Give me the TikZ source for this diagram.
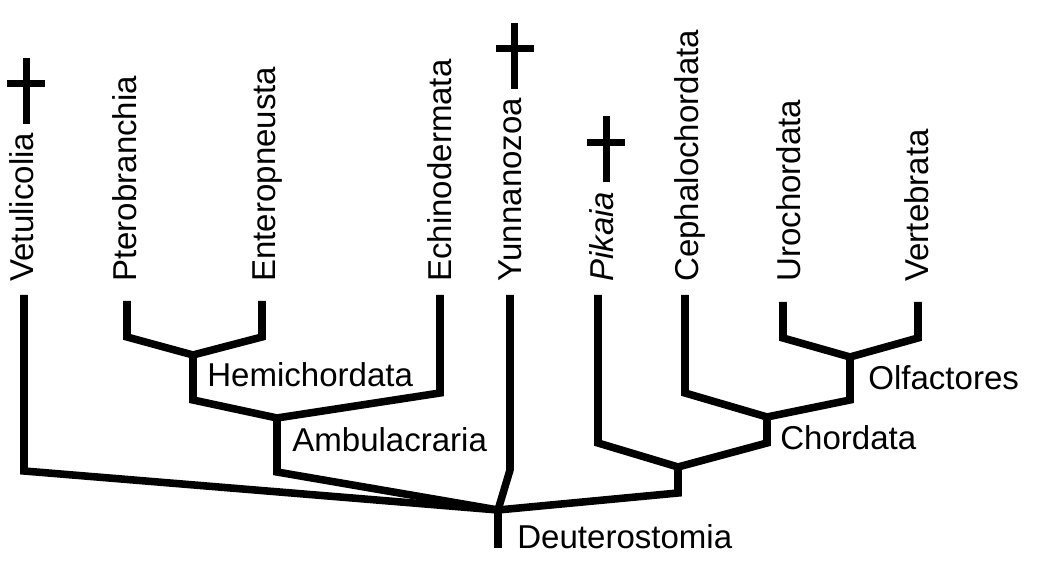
\documentclass[tikz,border=0pt]{standalone}
\usepackage{fontspec}
\setmainfont{Liberation Sans}
\usepackage{tikz}
\usetikzlibrary{calc}
\tikzset{
         branch/.style={line width=4.3pt,line join=miter},
         leaf/.style={rotate=90,anchor=base west,inner sep=0pt,font=\fontsize{18.8}{22}\selectfont},
         clade/.style={anchor=base west,inner sep=0pt,font=\fontsize{18.8}{22}\selectfont},
         extinct/.style={line width=3.8pt}
        }

\begin{document}
\begin{tikzpicture}
\useasboundingbox(0,0)rectangle(20.84,11.3);
%taxa
\foreach \n/\x/\t in {vet/0.67/Vetulicolia,pte/2.73/Pterobranchia,ent/5.51/Enteropneusta,ech/9.03/Echinodermata,yun/10.43/Yunnanozoa,pik/12.27/\textit{Pikaia},cep/13.97/Cephalochordata,uro/16.01/Urochordata,ver/18.57/Vertebrata}{
\node[leaf](\n)at(\x,5.66){\t};
}
%extinct taxa
\foreach \n in {vet,yun,pik}{
\draw[extinct]($(\n.east)+(0.09,0.18)$)--++(0,1.32);
\draw[extinct]($(\n.east)+(-0.29,0.98)$)--++(0.76,0);
}
%tips and splits
\coordinate(vett)at(0.48,5.4);\coordinate(vetc)at(0.48,1.88);
\coordinate(ptet)at(2.54,5.28);\coordinate(ptec)at(2.54,4.56);
\coordinate(entt)at(5.24,5.28);\coordinate(entc)at(5.24,4.56);
\coordinate(hemi)at(3.86,4.2);\coordinate(hemib)at(3.86,3.3);
\coordinate(echt)at(8.8,5.4);\coordinate(echc)at(8.8,3.44);
\coordinate(amb)at(5.54,2.94);\coordinate(ambb)at(5.54,1.86);
\coordinate(yunt)at(10.2,5.4);\coordinate(yunc)at(10.2,1.9);
\coordinate(root)at(9.96,1.1);\coordinate(rootb)at(9.96,0.34);
\coordinate(pikt)at(11.96,5.4);\coordinate(pikc)at(11.96,2.44);
\coordinate(pc)at(13.56,1.96);\coordinate(pcb)at(13.56,1.44);
\coordinate(cept)at(13.7,5.4);\coordinate(cepc)at(13.7,3.44);
\coordinate(chor)at(15.34,2.96);\coordinate(chorb)at(15.34,2.44);
\coordinate(urot)at(15.66,5.26);\coordinate(uroc)at(15.66,4.54);
\coordinate(vert)at(18.36,5.26);\coordinate(verc)at(18.36,4.54);
\coordinate(olf)at(17,4.16);\coordinate(olfb)at(17,3.3);
%tree
\draw[branch](vett)--(vetc)--(root);
\draw[branch](ptet)--(ptec)--(hemi)--(hemib)--(amb)--(ambb)--(root);
\draw[branch](entt)--(entc)--(hemi);
\draw[branch](echt)--(echc)--(amb);
\draw[branch](yunt)--(yunc)--(root)--(rootb);
\draw[branch](pikt)--(pikc)--(pc)--(pcb)--(root);
\draw[branch](cept)--(cepc)--(chor)--(chorb)--(pc);
\draw[branch](urot)--(uroc)--(olf)--(olfb)--(chor);
\draw[branch](vert)--(verc)--(olf);
%clades
\node[clade](hemil)at(4.14,3.56){Hemichordata};
\node[clade](ambl)at(5.84,2.26){Ambulacraria};
\node[clade](chorl)at(15.6,2.3){Chordata};
\node[clade](olfl)at(17.36,3.5){Olfactores};
\node[clade](deul)at(10.34,0.32){Deuterostomia};
\end{tikzpicture}
\end{document}
